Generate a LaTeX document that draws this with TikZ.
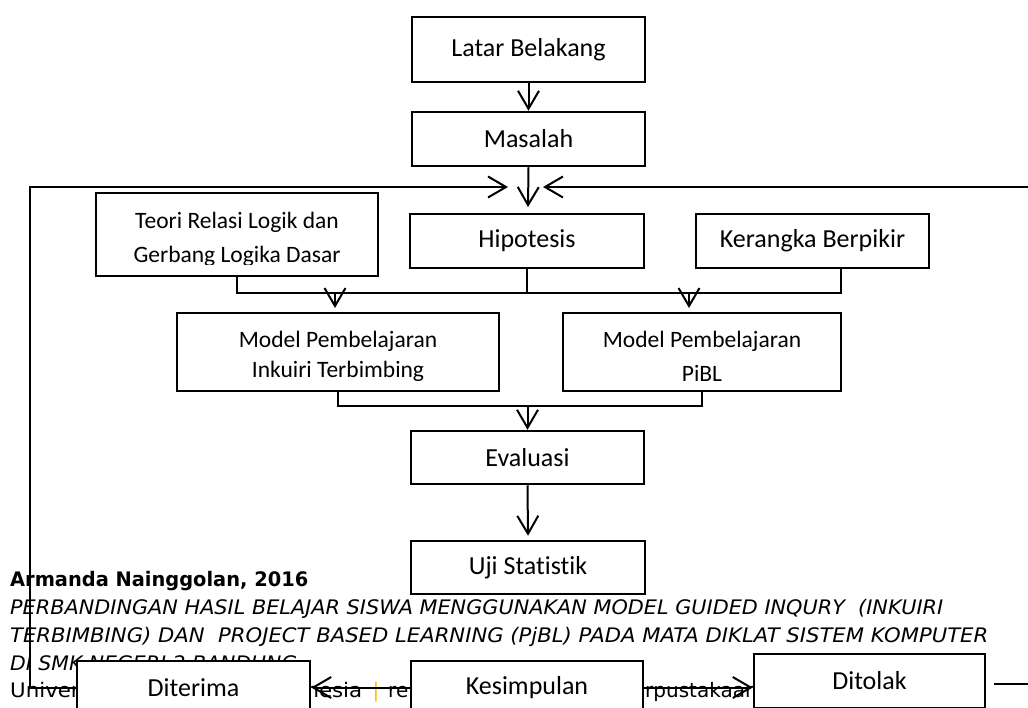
\documentclass[tikz,border=0pt]{standalone}
\usepackage{fontspec}
\setmainfont{Carlito}[Ligatures=NoCommon]
\newfontfamily\footfont{DejaVu Sans}
\usetikzlibrary{arrows.meta}
\definecolor{upiorange}{RGB}{255,192,0}
\begin{document}
\begin{tikzpicture}[x=1pt,y=-1pt,
  box/.style={draw, line width=2.5pt, fill=white, inner sep=0pt, align=center, font=\fontsize{26}{30}\selectfont},
  smalltxt/.style={inner sep=0pt, anchor=base, font=\fontsize{23.5}{28}\selectfont},
  conn/.style={line width=2pt},
  arr/.style={line width=2pt, -{Straight Barb[length=18pt,width=21pt]}},
  foot/.style={anchor=base west, inner sep=0pt, font=\footfont\fontsize{20}{24}\selectfont}]
\useasboundingbox (0,0) rectangle (1028,707);
\clip (0,0) rectangle (1028,707);

% footer text (drawn first, covered by boxes)
\node[foot, font=\footfont\bfseries\fontsize{20}{24}\selectfont] (f1) at (10,586) {\resizebox{298pt}{\height}{Armanda Nainggolan, 2016}};
\node[foot] (f2) at (10,614.5) {\resizebox{933pt}{\height}{\itshape PERBANDINGAN HASIL BELAJAR SISWA MENGGUNAKAN MODEL GUIDED INQURY\ \ (INKUIRI}};
\node[foot] (f3) at (10,642) {\resizebox{978pt}{\height}{\itshape TERBIMBING) DAN\ \ PROJECT BASED LEARNING (PjBL) PADA MATA DIKLAT SISTEM KOMPUTER}};
\node[foot] (f4) at (10,670) {\resizebox{287pt}{\height}{\itshape DI SMK NEGERI 2 BANDUNG}};
\node[foot] (f5a) at (10,697.5) {\resizebox{352pt}{\height}{Universitas Pendidikan Indonesia}};
\node[foot, anchor=base, text=upiorange] (f5b) at (376,697.5) {|};
\node[foot] (f5c) at (388,697.5) {repository.upi.edu};
\node[foot] (f5d) at (645,697.5) {\llap{\textcolor{upiorange}{|}\ pe}rpustakaan.upi.edu};

% boxes
\node[box, minimum width=233pt, minimum height=65pt] (latar) at (528.5,49.5) {Latar Belakang};
\node[box, minimum width=233pt, minimum height=54pt] (masalah) at (528.5,139) {Masalah};
\node[box, minimum width=234pt, minimum height=54pt] (hipotesis) at (527,241) {Hipotesis};
\node[box, minimum width=233pt, minimum height=54pt] (kerangka) at (812.5,241) {Kerangka Berpikir};
\node[box, minimum width=282pt, minimum height=83pt] (teori) at (237,234.5) {};
\begin{scope}
  \clip (98,195) rectangle (376,264);
  \node[smalltxt] (teori1) at (237,228) {Teori Relasi Logik dan};
  \node[smalltxt] (teori2) at (237,262) {Gerbang Logika Dasar};
\end{scope}
\node[box, minimum width=322pt, minimum height=78pt] (inkuiri) at (338,352) {};
\node[smalltxt] (inkuiri1) at (338,347) {Model Pembelajaran};
\node[smalltxt] (inkuiri2) at (338,377) {Inkuiri Terbimbing};
\node[box, minimum width=278pt, minimum height=78pt] (pibl) at (702,352) {};
\node[smalltxt] (pibl1) at (702,347) {Model Pembelajaran};
\node[smalltxt] (pibl2) at (702,381) {PiBL};
\node[box, minimum width=233pt, minimum height=53pt] (evaluasi) at (527.5,457.5) {Evaluasi};
\node[box, minimum width=234pt, minimum height=53pt] (uji) at (528,567.5) {Uji Statistik};
\node[box, minimum width=233pt, minimum height=53pt] (diterima) at (193.5,687.5) {Diterima};
\node[box, minimum width=232pt, minimum height=53pt] (kesimpulan) at (527,687.5) {Kesimpulan};
\node[box, minimum width=231pt, minimum height=54pt] (ditolak) at (869.5,681) {Ditolak};

% coordinates
\coordinate (hiptip) at (528,207);
\coordinate (ltip) at (508,187);
\coordinate (rtip) at (543,187);
\coordinate (redge) at (1028,187);
\coordinate (lcorner) at (30,187);
\coordinate (lbot) at (30,687.5);
\coordinate (mtop) at (0,293);
\coordinate (kb) at (841,269);
\coordinate (a1) at (335,308);
\coordinate (a2) at (689,308);
\coordinate (mbot) at (0,406);
\coordinate (dr) at (1028,684);

% connectors
\draw[arr] (latar.south) -- (masalah.north);
\draw[arr] (masalah.south) -- (hiptip);
\draw[arr] (diterima.west) -- (lbot) -- (lcorner) -- (ltip);
\draw[arr] (redge) -- (rtip);
\draw[conn] (teori.south) -- (teori.south |- mtop) -- (kb |- mtop) -- (kb);
\draw[conn] (hipotesis.south) -- (hipotesis.south |- mtop);
\draw[arr] (a1 |- mtop) -- (a1);
\draw[arr] (a2 |- mtop) -- (a2);
\draw[conn] (inkuiri.south) -- (inkuiri.south |- mbot) -- (pibl.south |- mbot) -- (pibl.south);
\draw[arr] (evaluasi.north |- mbot) -- (evaluasi.north);
\draw[arr] (evaluasi.south) -- ([yshift=4pt]uji.north);
\draw[arr] (kesimpulan.west) -- (diterima.east);
\draw[arr] (kesimpulan.east) -- (ditolak.west |- kesimpulan.east);
\draw[conn] ([xshift=8pt]ditolak.east |- dr) -- (dr);
\end{tikzpicture}
\end{document}
